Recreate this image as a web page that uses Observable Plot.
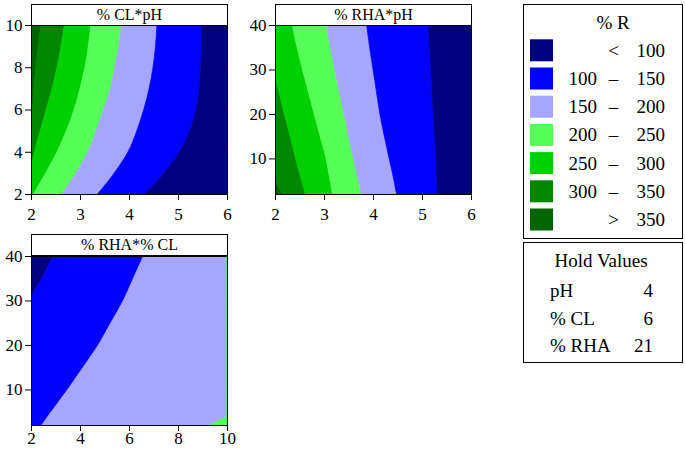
<!DOCTYPE html>
<html><head><meta charset="utf-8">
<script src="https://cdn.jsdelivr.net/npm/d3@7"></script>
<script src="https://cdn.jsdelivr.net/npm/@observablehq/plot@0.6"></script>
<style>
body{margin:0;background:#fff;font-family:"Liberation Serif","Times New Roman",serif;}
#root{position:relative;width:685px;height:455px;overflow:hidden;background:#fff;}
.panel{position:absolute;}
.hdr{position:absolute;box-sizing:border-box;border:1px solid #000;background:#fff;height:22px;width:197px;font-size:16px;text-align:center;line-height:20px;color:#000;white-space:pre;}
</style></head><body><div id="root"></div>
<script>
// ---- legend / categories ----
const levels = ["< 100", "100 – 150", "150 – 200", "200 – 250", "250 – 300", "300 – 350", "> 350"];
const levelLo = ["", "100", "150", "200", "250", "300", ""];
const levelSym = ["<", "–", "–", "–", "–", "–", ">"];
const levelHi = ["100", "150", "200", "250", "300", "350", "350"];
const colors = ["#000080", "#0000FF", "#A6A6FF", "#55FF55", "#00D000", "#008800", "#006400"];
const legendTitle = "% R";
const holdTitle = "Hold Values";
const holdNames = ["pH", "% CL", "% RHA"];
const holdVals = ["4", "6", "21"];

// ---- panel 1: % CL (y) vs pH (x): contour boundary x positions at each y ----
const cpTitle = "% CL*pH";
const cpXTicks = [2, 3, 4, 5, 6];
const cpYTicks = [2, 4, 6, 8, 10];
const cpY    = [2, 3, 4, 5, 6, 7, 8, 9, 10];
const cpB350 = [2.00, 2.00, 2.00, 2.00, 2.03, 2.06, 2.10, 2.15, 2.20];
const cpB300 = [2.00, 2.00, 2.07, 2.19, 2.31, 2.43, 2.53, 2.61, 2.68];
const cpB250 = [2.05, 2.30, 2.53, 2.72, 2.88, 3.00, 3.10, 3.17, 3.22];
const cpB200 = [2.63, 2.92, 3.16, 3.33, 3.48, 3.62, 3.71, 3.79, 3.85];
const cpB150 = [3.36, 3.70, 3.98, 4.16, 4.30, 4.41, 4.49, 4.54, 4.57];
const cpB100 = [4.32, 4.72, 5.03, 5.24, 5.37, 5.43, 5.46, 5.48, 5.48];

// ---- panel 2: % RHA (y) vs pH (x) ----
const rpTitle = "% RHA*pH";
const rpXTicks = [2, 3, 4, 5, 6];
const rpYTicks = [10, 20, 30, 40];
const rpY    = [2, 6, 10, 15, 20, 25, 30, 35, 40];
const rpB350 = [2.16, 2.00, 2.00, 2.00, 2.00, 2.00, 2.00, 2.00, 2.00];
const rpB300 = [2.62, 2.52, 2.42, 2.31, 2.19, 2.08, 2.00, 2.00, 2.00];
const rpB250 = [3.17, 3.11, 3.04, 2.92, 2.80, 2.68, 2.56, 2.45, 2.35];
const rpB200 = [3.77, 3.68, 3.60, 3.50, 3.41, 3.31, 3.22, 3.13, 3.05];
const rpB150 = [4.48, 4.41, 4.33, 4.23, 4.14, 4.07, 4.00, 3.93, 3.87];
const rpB100 = [5.32, 5.30, 5.29, 5.26, 5.23, 5.20, 5.18, 5.15, 5.13];

// ---- panel 3: % RHA (y) vs % CL (x) ----
const rcTitle = "% RHA*% CL";
const rcXTicks = [2, 4, 6, 8, 10];
const rcYTicks = [10, 20, 30, 40];
const rcY    = [2, 3, 4, 10, 15, 20, 25, 30, 35, 40];
const rcB100 = [2.00, 2.00, 2.00, 2.00, 2.00, 2.00, 2.00, 2.00, 2.45, 2.91];
const rcB150 = [2.44, 2.57, 2.70, 3.50, 4.13, 4.75, 5.26, 5.77, 6.18, 6.59];
const rcB200 = [9.32, 9.66, 10.0, 10.0, 10.0, 10.0, 10.0, 10.0, 10.0, 10.0];

const FONT = "'Liberation Serif', 'Times New Roman', serif";

function bandRows(ys, edges, bandLevels) {
  const rows = [];
  bandLevels.forEach((lv, k) => {
    ys.forEach((y, j) => rows.push({band: lv, y, x1: edges[k][j], x2: edges[k + 1][j]}));
  });
  return rows;
}
const fill = (ys, v) => ys.map(() => v);

function panel({ys, edges, bandLevels, xDomain, yDomain, xTicks, yTicks, height, xPad}) {
  const rows = bandRows(ys, edges, bandLevels);
  const p = Plot.plot({
    width: 240, height,
    marginLeft: 31, marginRight: 13, marginTop: 25, marginBottom: height - 194,
    style: {fontFamily: FONT, fontSize: "17px", color: "#000", background: "transparent", overflow: "visible"},
    x: {domain: xDomain},
    y: {domain: yDomain},
    color: {domain: levels, range: colors},
    marks: [
      Plot.areaX(rows, {y: "y", x1: "x1", x2: "x2", fill: "band", stroke: "band", strokeWidth: 0.7, curve: "monotone-y", clip: true}),
      Plot.frame({stroke: "#000", strokeWidth: 1}),
      Plot.axisX({ticks: xTicks, tickFormat: d => String(d), tickSize: 6, tickPadding: xPad, label: null, stroke: "#000"}),
      Plot.axisY({ticks: yTicks, tickFormat: d => String(d), tickSize: 6, tickPadding: 3, label: null, stroke: "#000"})
    ]
  });
  d3.select(p).selectAll("text")
    .style("font-family", FONT).style("font-size", "17px").style("font-variant", "normal");
  return p;
}

const root = document.getElementById("root");
function place(el, left, top) { el.classList.add("panel"); el.style.left = left + "px"; el.style.top = top + "px"; root.appendChild(el); }
function header(text, left, top) {
  const d = document.createElement("div"); d.className = "hdr"; d.textContent = text;
  d.style.left = left + "px"; d.style.top = top + "px"; root.appendChild(d);
}

const p1 = panel({
  ys: cpY,
  edges: [fill(cpY, 2), cpB350, cpB300, cpB250, cpB200, cpB150, cpB100, fill(cpY, 6)],
  bandLevels: [levels[6], levels[5], levels[4], levels[3], levels[2], levels[1], levels[0]],
  xDomain: [2, 6], yDomain: [2, 10], xTicks: cpXTicks, yTicks: cpYTicks, height: 225, xPad: 7
});
place(p1, 0, 0); header(cpTitle, 31, 4);

const p2 = panel({
  ys: rpY,
  edges: [fill(rpY, 2), rpB350, rpB300, rpB250, rpB200, rpB150, rpB100, fill(rpY, 6)],
  bandLevels: [levels[6], levels[5], levels[4], levels[3], levels[2], levels[1], levels[0]],
  xDomain: [2, 6], yDomain: [2, 40], xTicks: rpXTicks, yTicks: rpYTicks, height: 225, xPad: 7
});
place(p2, 244, 0); header(rpTitle, 275, 4);

const p3 = panel({
  ys: rcY,
  edges: [fill(rcY, 2), rcB100, rcB150, rcB200, fill(rcY, 10)],
  bandLevels: [levels[0], levels[1], levels[2], levels[3]],
  xDomain: [2, 10], yDomain: [2, 40], xTicks: rcXTicks, yTicks: rcYTicks, height: 224, xPad: 0
});
place(p3, 0, 231); header(rcTitle, 31, 234);

// ---- legend boxes ----
const svg = d3.select(root).append("svg")
  .attr("width", 685).attr("height", 455)
  .style("position", "absolute").style("left", "0px").style("top", "0px")
  .style("pointer-events", "none")
  .style("font-family", FONT)
  .style("font-size", "19px").attr("fill", "#000");

svg.append("rect").attr("x", 523.5).attr("y", 4.5).attr("width", 159).attr("height", 234)
  .attr("fill", "#fff").attr("stroke", "#000");
svg.append("text").attr("x", 613).attr("y", 29).attr("text-anchor", "middle").text(legendTitle);
levels.forEach((lv, i) => {
  const top = 39.3 + 28.2 * i;
  svg.append("rect").attr("x", 530).attr("y", top).attr("width", 23).attr("height", 22).attr("fill", colors[i]);
  const base = top + 17.4;
  if (levelLo[i]) svg.append("text").attr("x", 597).attr("y", base).attr("text-anchor", "end").text(levelLo[i]);
  svg.append("text").attr("x", 613.5).attr("y", base).attr("text-anchor", "middle").text(levelSym[i]);
  svg.append("text").attr("x", 665).attr("y", base).attr("text-anchor", "end").text(levelHi[i]);
});

svg.append("rect").attr("x", 523.5).attr("y", 242.5).attr("width", 159).attr("height", 120)
  .attr("fill", "#fff").attr("stroke", "#000");
svg.append("text").attr("x", 601).attr("y", 267).attr("text-anchor", "middle").text(holdTitle);
holdNames.forEach((n, i) => {
  const base = 297 + 27.5 * i;
  svg.append("text").attr("x", 550).attr("y", base).text(n);
  svg.append("text").attr("x", 653).attr("y", base).attr("text-anchor", "end").text(holdVals[i]);
});
</script></body></html>
